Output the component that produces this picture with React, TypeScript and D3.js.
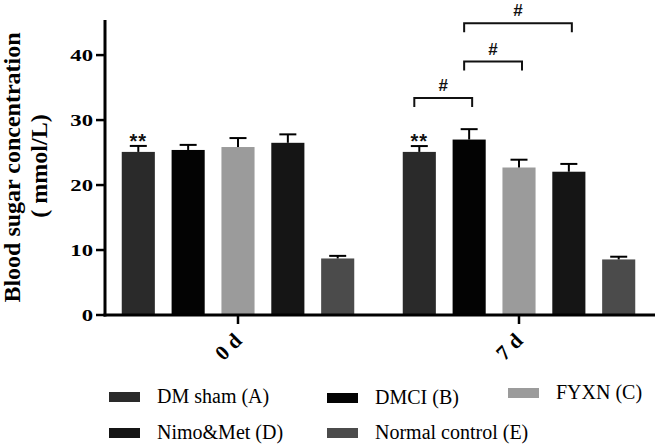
import React from "react";
import * as d3 from "d3";

const groups = ["0 d", "7 d"];
const series = ["DM sham (A)", "DMCI (B)", "FYXN (C)", "Nimo&Met (D)", "Normal control (E)"];
const colors = ["#2a2a2a", "#030303", "#9b9b9b", "#151515", "#4b4b4b"];
const day0Values = [25.1, 25.4, 25.85, 26.5, 8.7];
const day0Errors = [0.92, 0.78, 1.38, 1.3, 0.4];
const day7Values = [25.1, 27.0, 22.7, 22.05, 8.55];
const day7Errors = [0.9, 1.6, 1.2, 1.2, 0.42];
const yTicks = [0, 10, 20, 30, 40];
const starMarks = [
  { group: "0 d", series: "DM sham (A)", label: "**" },
  { group: "7 d", series: "DM sham (A)", label: "**" },
];
const brackets = [
  { group: "7 d", from: "DM sham (A)", to: "DMCI (B)", level: 33.4, label: "#" },
  { group: "7 d", from: "DMCI (B)", to: "FYXN (C)", level: 39.0, label: "#" },
  { group: "7 d", from: "DMCI (B)", to: "Nimo&Met (D)", level: 44.9, label: "#" },
];

const W = 657;
const H = 445;
const serif = "'Liberation Serif', 'Times New Roman', serif";
const sans = "'Liberation Sans', Arial, sans-serif";

export default function App() {
  const y = d3.scaleLinear().domain([0, 45.4]).range([315, 20]);
  const x0 = d3.scaleBand<string>().domain(groups).range([105, 652]).paddingInner(0.0534).paddingOuter(0);
  const x1 = d3.scaleBand<string>().domain(series).range([0, x0.bandwidth()]).padding(0.336);
  const values: Record<string, number[]> = { "0 d": day0Values, "7 d": day7Values };
  const errors: Record<string, number[]> = { "0 d": day0Errors, "7 d": day7Errors };
  const cx = (g: string, s: string) => (x0(g) as number) + (x1(s) as number) + x1.bandwidth() / 2;

  const legendItems = [
    { s: series[0], x: 109, y: 392 },
    { s: series[1], x: 327, y: 393 },
    { s: series[2], x: 508, y: 388 },
    { s: series[3], x: 109, y: 428 },
    { s: series[4], x: 327, y: 428 },
  ];

  return (
    <svg width={W} height={H} style={{ position: "absolute", left: 0, top: 0, background: "#fff" }}>
      <rect x={0} y={0} width={W} height={H} fill="#fff" />
      {/* bars */}
      {groups.map((g) =>
        series.map((s, i) => {
          const v = values[g][i];
          const e = errors[g][i];
          const bx = (x0(g) as number) + (x1(s) as number);
          const c = cx(g, s);
          return (
            <g key={g + s}>
              <rect x={bx} y={y(v)} width={x1.bandwidth()} height={y(0) - y(v)} fill={colors[i]} />
              <line x1={c} x2={c} y1={y(v)} y2={y(v + e)} stroke="#000" strokeWidth={2} />
              <line x1={c - 8.5} x2={c + 8.5} y1={y(v + e)} y2={y(v + e)} stroke="#000" strokeWidth={2} />
            </g>
          );
        })
      )}
      {/* star marks */}
      {starMarks.map((m, k) => {
        const i = series.indexOf(m.series);
        const top = values[m.group][i] + errors[m.group][i];
        return (
          <text key={"st" + k} x={cx(m.group, m.series)} y={y(top) + 2} textAnchor="middle"
            fontFamily={sans} fontWeight="bold" fontSize={20} letterSpacing={1} fill="#111">{m.label}</text>
        );
      })}
      {/* brackets */}
      {brackets.map((b, k) => {
        const l = cx(b.group, b.from) - 5;
        const r = cx(b.group, b.to) + 3;
        const yy = y(b.level);
        return (
          <g key={"br" + k}>
            <path d={`M${l},${yy + 9}V${yy}H${r}V${yy + 9}`} fill="none" stroke="#111" strokeWidth={2} />
            <text x={(l + r) / 2} y={yy - 7} textAnchor="middle" fontFamily={sans} fontWeight="bold"
              fontSize={17} fill="#111">{b.label}</text>
          </g>
        );
      })}
      {/* axes */}
      <line x1={105} x2={105} y1={y(45.4)} y2={316.5} stroke="#000" strokeWidth={3} />
      <line x1={103.5} x2={655} y1={315} y2={315} stroke="#000" strokeWidth={3} />
      {yTicks.map((t) => (
        <g key={"yt" + t}>
          <line x1={96} x2={105} y1={y(t)} y2={y(t)} stroke="#000" strokeWidth={2.5} />
          <text transform={`translate(93,${y(t) + 5.5}) scale(1.42,1)`} textAnchor="end"
            fontFamily={serif} fontWeight="bold" fontSize={16} fill="#000">{t}</text>
        </g>
      ))}
      {groups.map((g) => {
        const c = (x0(g) as number) + x0.bandwidth() / 2;
        return (
          <g key={"xt" + g}>
            <line x1={c} x2={c} y1={315} y2={324} stroke="#000" strokeWidth={2.5} />
            <text transform={`translate(${c + 5},${342}) rotate(-45)`} textAnchor="end"
              fontFamily={serif} fontWeight="bold" fontSize={21} fill="#000">{g}</text>
          </g>
        );
      })}
      {/* y label */}
      <text transform={`translate(20,167.5) rotate(-90)`} textAnchor="middle" fontFamily={serif}
        fontWeight="bold" fontSize={24} fill="#000">Blood sugar concentration</text>
      <text transform={`translate(47,166) rotate(-90)`} textAnchor="middle" fontFamily={serif}
        fontWeight="bold" fontSize={24} fill="#000">( mmol/L)</text>
      {/* legend */}
      {legendItems.map((it, k) => (
        <g key={"lg" + k}>
          <rect x={it.x} y={it.y} width={31} height={10} fill={colors[series.indexOf(it.s)]} />
          <text x={it.x + 48} y={it.y + 10.5} fontFamily={serif} fontSize={20} fill="#000">{it.s}</text>
        </g>
      ))}
    </svg>
  );
}
